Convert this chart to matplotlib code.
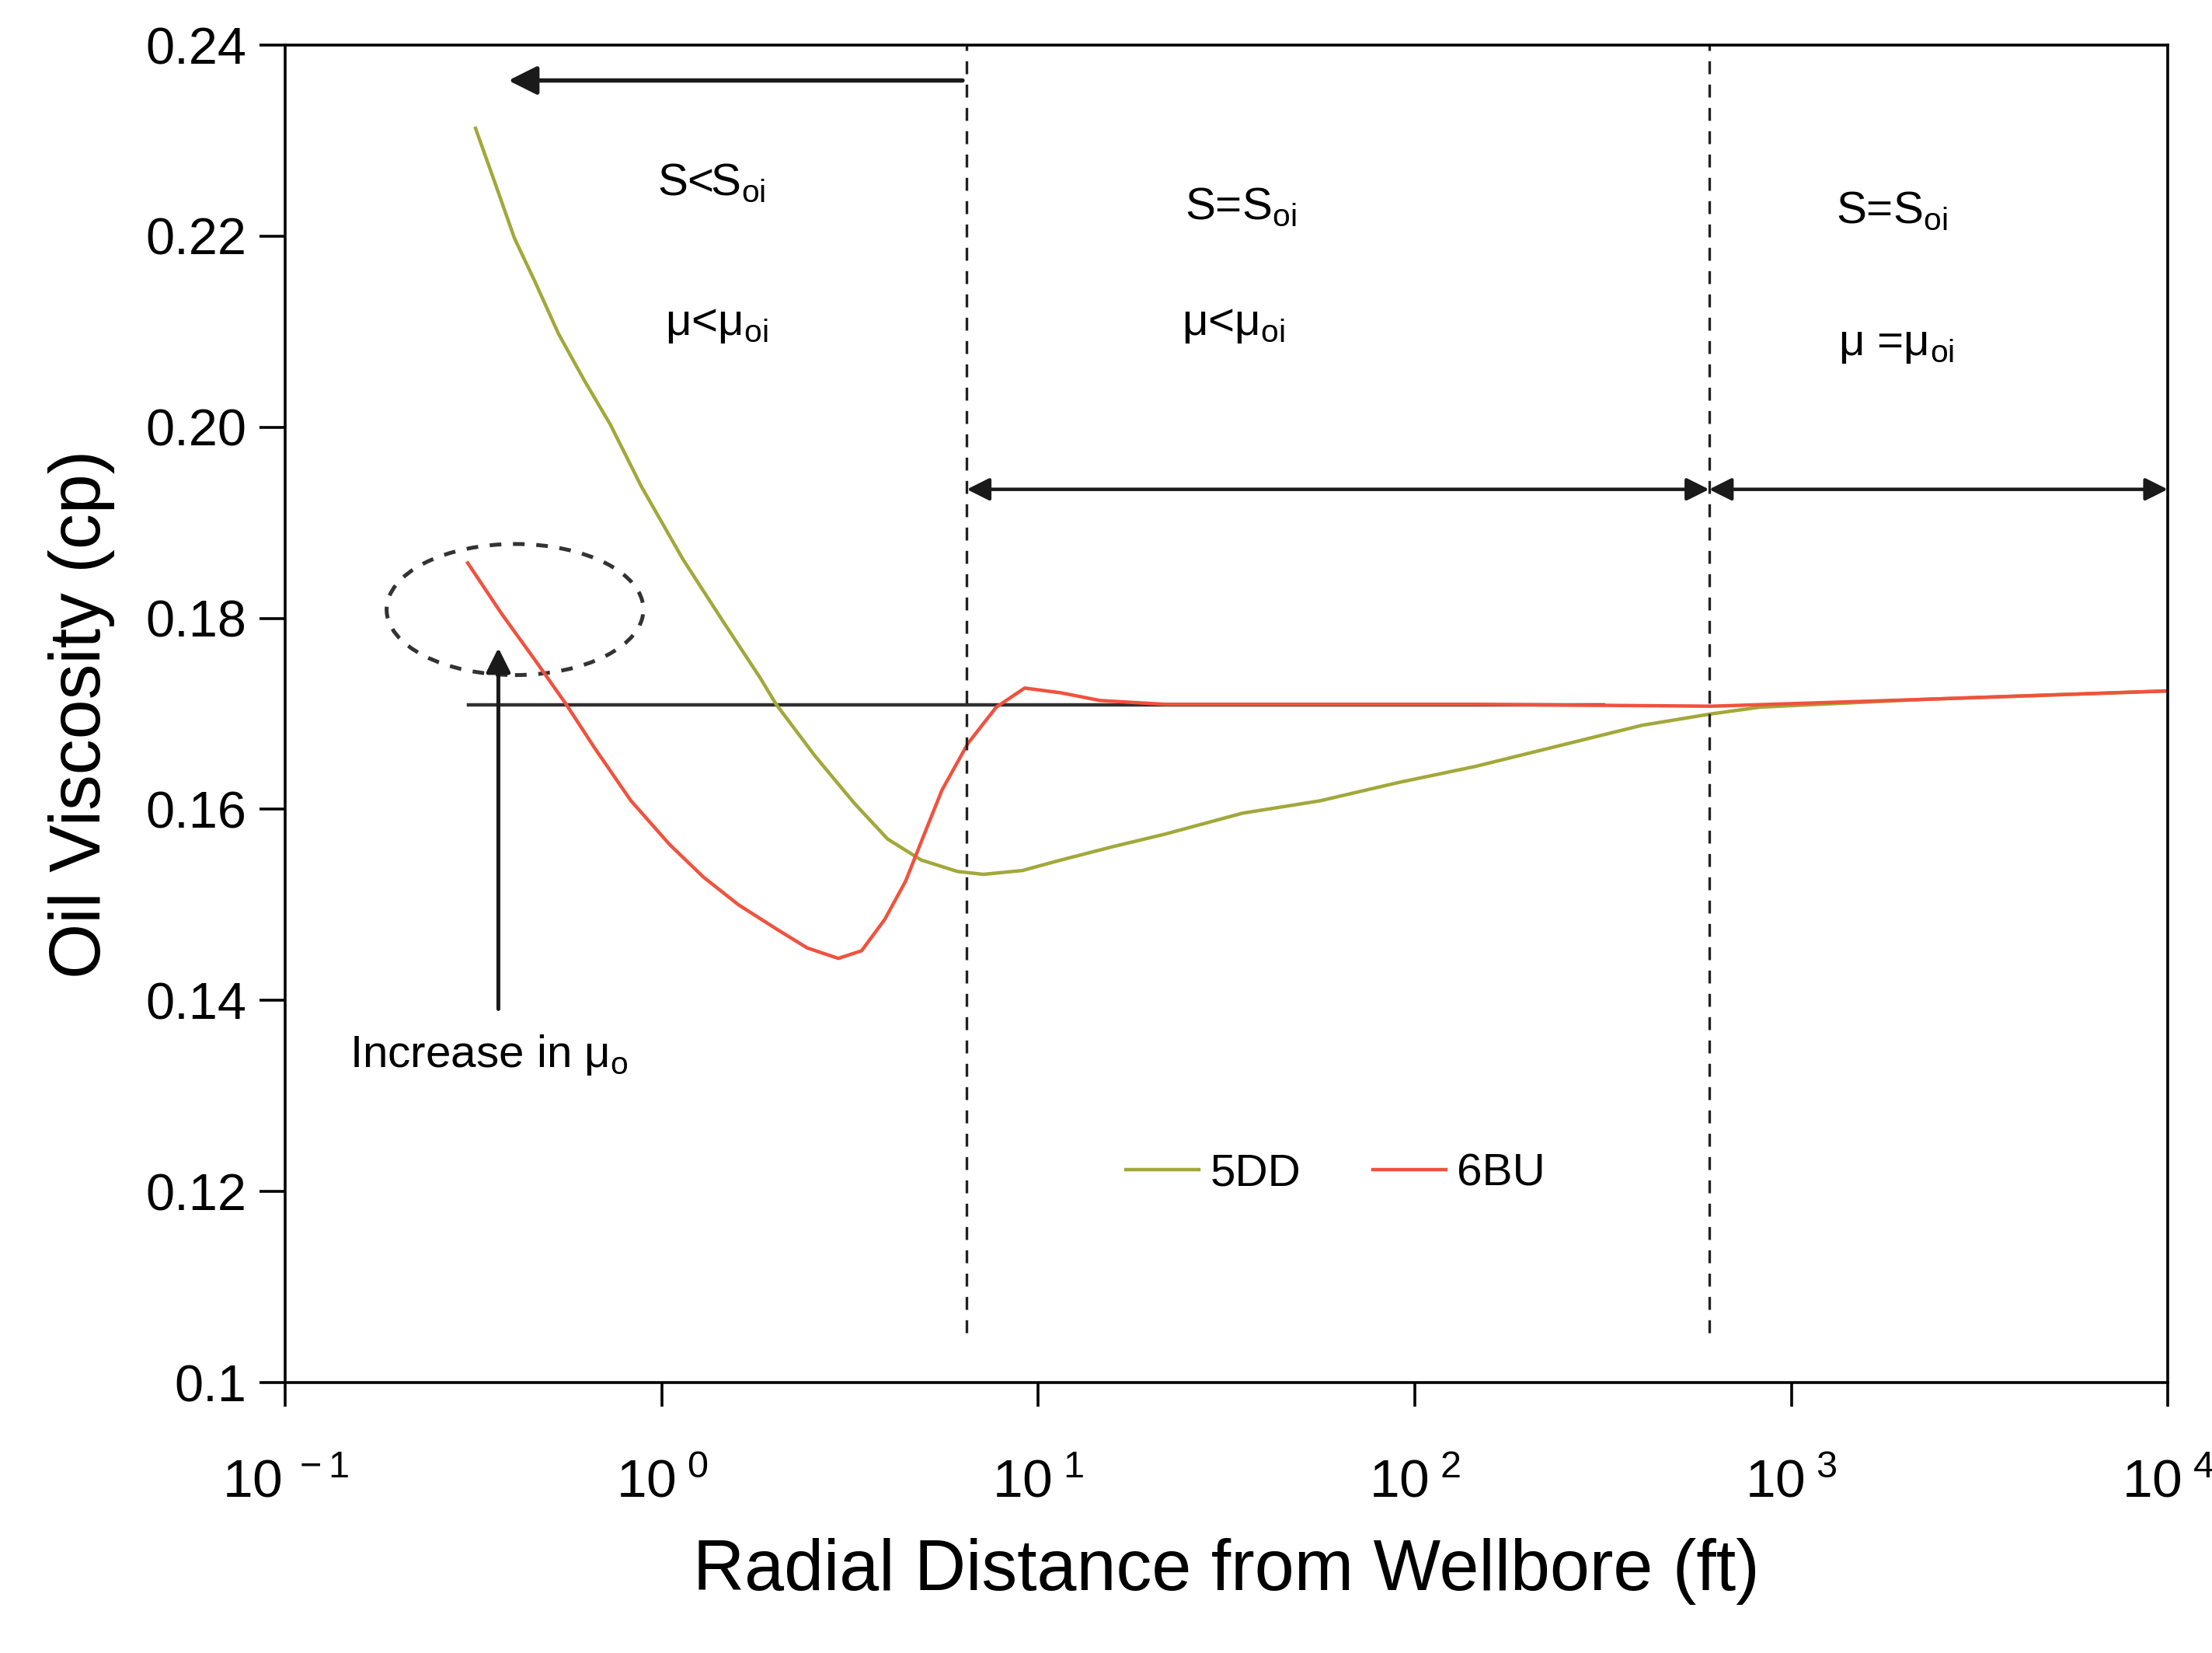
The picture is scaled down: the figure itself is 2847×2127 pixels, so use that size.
import matplotlib
matplotlib.use("Agg")
import matplotlib.pyplot as plt
import matplotlib.patches as mpatches

plt.rcParams['font.family'] = ['Liberation Sans', 'DejaVu Sans']
plt.rcParams['mathtext.fontset'] = 'custom'
plt.rcParams['mathtext.rm'] = 'Liberation Sans'
plt.rcParams['mathtext.it'] = 'Liberation Sans:italic'

# ---- data ----
r_5dd = [0.320, 0.3633, 0.4059, 0.4608, 0.5313, 0.6225, 0.7295, 0.8824, 1.137, 1.442,
         1.829, 2.012, 2.551, 3.236, 3.977, 4.886, 6.10, 7.146, 9.066, 11.49,
         15.78, 21.66, 34.85, 56.05, 90.2, 145, 401, 614, 826, 2193, 10000]
mu_5dd = [0.2313, 0.2252, 0.2198, 0.2152, 0.2098, 0.2049, 0.2003, 0.1938, 0.1862, 0.1799,
          0.1737, 0.1710, 0.1656, 0.1607, 0.1569, 0.1547, 0.1535, 0.1532, 0.1536, 0.1547,
          0.1561, 0.1574, 0.1596, 0.1609, 0.1628, 0.1645, 0.1688, 0.1700, 0.1707, 0.1715, 0.1724]

r_6bu = [0.305, 0.375, 0.461, 0.557, 0.6636, 0.828, 1.050, 1.291, 1.60, 2.012,
         2.432, 2.942, 3.393, 3.912, 4.443, 4.886, 5.545, 6.50, 7.733, 9.20,
         11.49, 14.57, 21.66, 56.05, 145, 614, 2193, 10000]
mu_6bu = [0.1858, 0.1805, 0.1756, 0.1710, 0.1664, 0.1609, 0.1563, 0.1529, 0.1500, 0.1475,
          0.1455, 0.1444, 0.1452, 0.1485, 0.1525, 0.1566, 0.1620, 0.1669, 0.1707, 0.1727,
          0.1722, 0.1714, 0.1710, 0.1710, 0.1710, 0.1708, 0.1715, 0.1724]

mu_initial = 0.1709          # reference line
r_ref = [0.307, 317]
r_zone = [6.46, 605]         # zone boundaries
x_ticks = [0.1, 1, 10, 100, 1000, 10000]
y_ticks = [0.10, 0.12, 0.14, 0.16, 0.18, 0.20, 0.22, 0.24]
y_labels = ['0.1', '0.12', '0.14', '0.16', '0.18', '0.20', '0.22', '0.24']

c_5dd = '#a2a83a'
c_6bu = '#f0523e'

fig = plt.figure(figsize=(14.235, 10.635), dpi=200)
ax = fig.add_axes([0.129, 0.1636, 0.851, 0.8091])

ax.plot(r_ref, [mu_initial, mu_initial], color='#303030', lw=1.6, zorder=1)
ax.plot(r_5dd, mu_5dd, color=c_5dd, lw=1.6, label='5DD')
ax.plot(r_6bu, mu_6bu, color=c_6bu, lw=1.6, label='6BU')

ax.set_xscale('log')
ax.set_xlim(0.1, 10000)
ax.set_ylim(0.1, 0.24)
ax.set_xticks(x_ticks)
ax.set_xticklabels([r'$\mathregular{10^{\ %d}}$' % e for e in range(-1, 5)])
ax.minorticks_off()
ax.set_yticks(y_ticks)
ax.set_yticklabels(y_labels)
ax.tick_params(axis='x', direction='out', length=11, width=1.3, pad=24, labelsize=25)
ax.tick_params(axis='y', direction='out', length=12, width=1.3, pad=6, labelsize=24)
for s in ax.spines.values():
    s.set_linewidth(1.3)

ax.set_xlabel('Radial Distance from Wellbore (ft)', fontsize=33, labelpad=14)
ax.set_ylabel('Oil Viscosity (cp)', fontsize=33, labelpad=14)

# zone boundaries
for xb in r_zone:
    ax.plot([xb, xb], [0.1052, 0.24], color='#222222', lw=1.2, ls=(0, (5, 4)))

# arrows
ax.annotate('', xy=(0.381, 0.2363), xytext=(r_zone[0], 0.2363),
            arrowprops=dict(arrowstyle='-|>', color='#1a1a1a', lw=2.0, mutation_scale=28))
ax.annotate('', xy=(r_zone[0], 0.1935), xytext=(r_zone[1], 0.1935),
            arrowprops=dict(arrowstyle='<|-|>', color='#1a1a1a', lw=1.6, mutation_scale=22,
                            shrinkA=0, shrinkB=0))
ax.annotate('', xy=(r_zone[1], 0.1935), xytext=(10000, 0.1935),
            arrowprops=dict(arrowstyle='<|-|>', color='#1a1a1a', lw=1.6, mutation_scale=22,
                            shrinkA=0, shrinkB=0))
ax.annotate('', xy=(0.368, 0.1769), xytext=(0.368, 0.1391),
            arrowprops=dict(arrowstyle='-|>', color='#1a1a1a', lw=1.8, mutation_scale=24,
                            shrinkA=0, shrinkB=0))

ax.add_patch(mpatches.Ellipse((0.122, 0.578), 0.1364, 0.098, transform=ax.transAxes,
                              fill=False, ec='#333333', lw=1.8, ls=(0, (3, 3))))

# zone text
fs = 21
ax.text(1.355, 0.2255, r'S<S$_{\mathregular{oi}}$', fontsize=fs, ha='center', va='center')
ax.text(1.40, 0.2108, r'μ<μ$_{\mathregular{oi}}$', fontsize=fs, ha='center', va='center')
ax.text(34.5, 0.2230, r'S=S$_{\mathregular{oi}}$', fontsize=fs, ha='center', va='center')
ax.text(33.0, 0.2108, r'μ<μ$_{\mathregular{oi}}$', fontsize=fs, ha='center', va='center')
ax.text(1850, 0.2226, r'S=S$_{\mathregular{oi}}$', fontsize=fs, ha='center', va='center')
ax.text(1900, 0.2087, r'μ =μ$_{\mathregular{oi}}$', fontsize=fs, ha='center', va='center')
ax.text(0.347, 0.1343, r'Increase in μ$_{\mathregular{o}}$', fontsize=fs, ha='center', va='center')

ax.legend(loc='center', bbox_to_anchor=(0.558, 0.156), ncol=2, frameon=False, fontsize=21,
          handlelength=1.6, handletextpad=0.25, columnspacing=1.6)

fig.savefig('out.png', dpi=200, facecolor='white')
